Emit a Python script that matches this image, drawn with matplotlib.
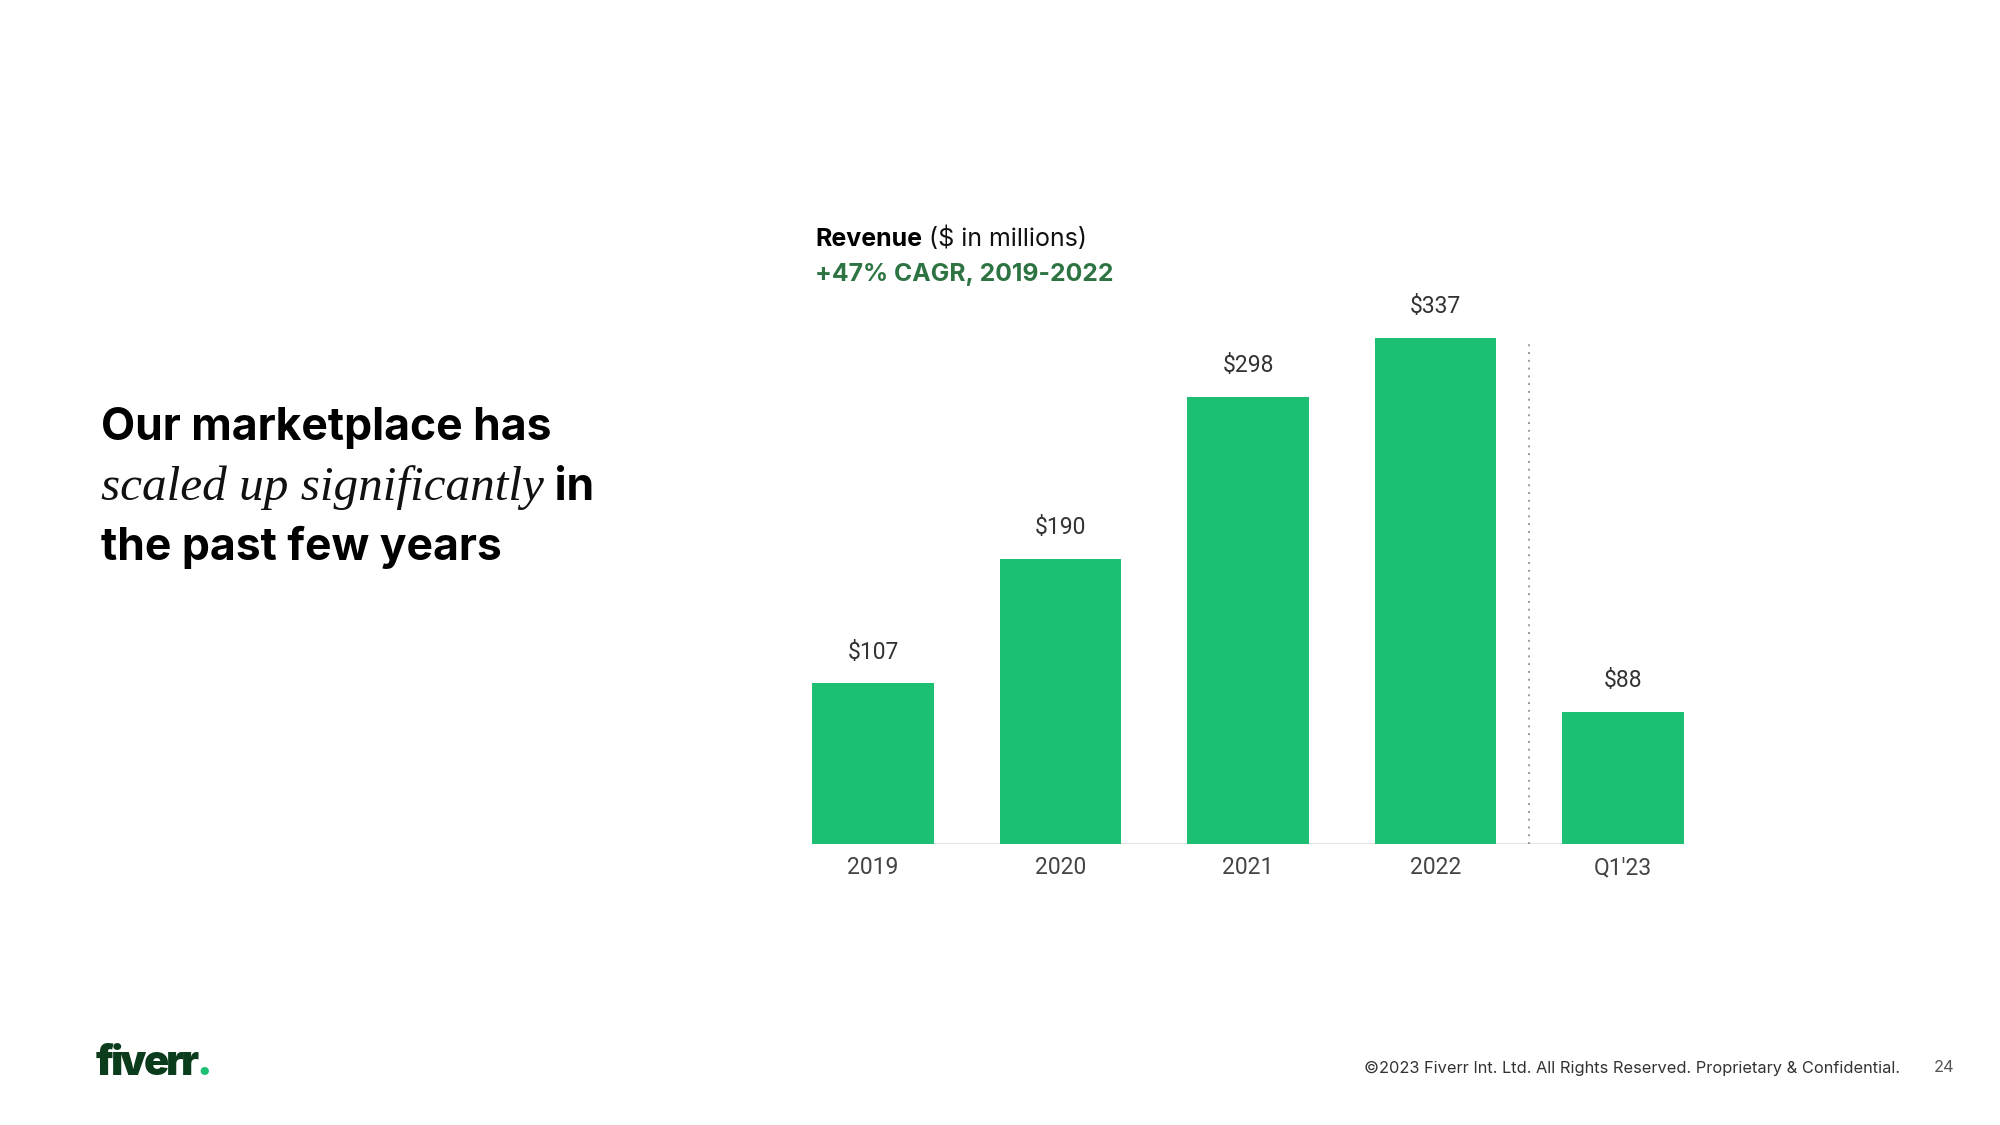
import numpy as np
import matplotlib.pyplot as plt
import matplotlib as mpl

mpl.rcParams['font.family'] = ['Inter', 'DejaVu Sans']

# data
categories = ['2019', '2020', '2021', '2022', "Q1'23"]
revenue = [107, 190, 298, 337, 88]
value_labels = ['$107', '$190', '$298', '$337', '$88']

GREEN = '#1DBF73'
DARK_GREEN = '#0B3D1C'
CAGR_GREEN = '#2E7443'

W, H = 2000, 1125
fig = plt.figure(figsize=(W / 100, H / 100), dpi=100)
fig.patch.set_facecolor('white')


def px(x, y):
    # pixel position (from top-left) -> figure fraction
    return x / W, 1 - y / H


def runs(x, y, parts, track=0):
    # draw text pieces one after another on a shared baseline
    renderer = fig.canvas.get_renderer()
    for s, kw in parts:
        fx, fy = px(x, y)
        t = fig.text(fx, fy, s, va='baseline', ha='left', **kw)
        bb = t.get_window_extent(renderer=renderer)
        x = bb.x1 + track


# headline on the left
hl = dict(fontsize=32, fontweight='bold', color='#000000', family=['Inter', 'DejaVu Sans'])
serif = dict(fontsize=35.5, style='italic', color='#111111', family=['Liberation Serif', 'DejaVu Serif'])
runs(101, 440, [('Our marketplace has', hl)])
runs(101, 500, [('scaled up significantly', serif), (' in', hl)])
runs(101, 560, [('the past few years', hl)])

# chart title
runs(815, 246, [('Revenue', dict(fontsize=18, fontweight='bold', color='#000000')),
                (' ($ in millions)', dict(fontsize=18, color='#111111'))])
runs(815, 281, [('+47% CAGR, 2019-2022', dict(fontsize=17.8, fontweight='bold', color=CAGR_GREEN))])

# bar chart
ax = fig.add_axes([779.25 / W, 281 / H, 937.5 / W, 525.4 / H])
x = np.arange(len(categories))
ax.bar(x, revenue, width=0.65, color=GREEN, zorder=2)
ax.set_xlim(-0.5, 4.5)
ax.set_ylim(0, 350)
ax.hlines(0, -0.325, 4.325, color='#e3e3e3', linewidth=1.5, zorder=1)
ax.vlines(3.5, 0, max(revenue) - 2, color='#9a9a9a', linestyle=(0, (1, 3)), linewidth=1.4)
for xi, v, lab in zip(x, revenue, value_labels):
    ax.annotate(lab, (xi, v), xytext=(0, 22.5), textcoords='offset points',
                ha='center', va='center', fontsize=16.5, color='#333333',
                family=['Roboto', 'DejaVu Sans'])
ax.set_xticks(x)
ax.set_xticklabels(categories, fontsize=16.5, color='#444444', family=['Roboto', 'DejaVu Sans'])
ax.tick_params(axis='x', length=0, pad=9)
ax.set_yticks([])
for s in ax.spines.values():
    s.set_visible(False)
ax.patch.set_alpha(0)

# footer
fx, fy = px(1900, 1068)
fig.text(fx, fy, '\u00a92023 Fiverr Int. Ltd. All Rights Reserved. Proprietary & Confidential.',
         ha='right', va='center', fontsize=11.8, color='#333333')
fx, fy = px(1944, 1068)
fig.text(fx, fy, '24', ha='center', va='center', fontsize=11.8, color='#555555')

# logo, tightly tracked letters
logo = dict(fontsize=30, fontweight='black', color=DARK_GREEN)
runs(96, 1075, [(c, logo) for c in 'fiverr'] + [('.', dict(logo, color=GREEN))], track=-3)

fig.savefig('out.png', dpi=100)
